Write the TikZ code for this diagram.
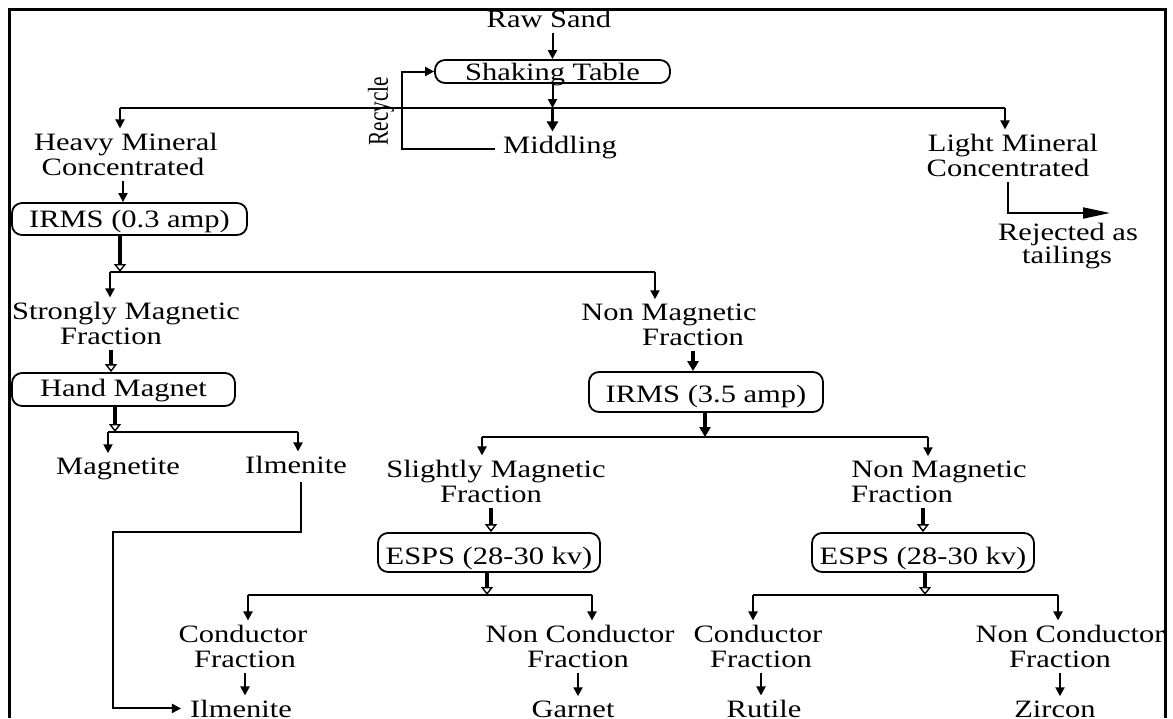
\documentclass[tikz,border=0pt]{standalone}
\usepackage{fontspec}
\setmainfont{Liberation Serif}[FakeStretch=1.22]
\usetikzlibrary{arrows.meta}
\begin{document}
\begin{tikzpicture}[x=1pt,y=-1pt,
  lbl/.style={inner sep=0pt, anchor=base, font=\fontsize{25}{30}\selectfont},
  proc/.style={draw, line width=1.8pt, rounded corners=10pt, inner sep=0pt, anchor=base,
    font=\fontsize{25}{30}\selectfont},
  ln/.style={line width=2pt},
  arr/.style={line width=2pt, -{Triangle[width=9pt,length=9pt]}},
  thk/.style={line width=3.2pt, -{Triangle[open,width=12pt,length=8pt,line width=1.4pt]}},
  thkf/.style={line width=3.2pt, -{Triangle[width=11pt,length=10pt]}},
  big/.style={line width=2pt, -{Triangle[width=11pt,length=27pt]}},
  fromtxt/.style={shorten <=6pt},
  totxt/.style={shorten >=4pt}
]
\useasboundingbox (0,0) rectangle (1173,718);

% process boxes
\node[proc, minimum width=235pt, text height=20pt, text depth=3pt] (shake) at (552.5,80) {Shaking Table};
\node[proc, minimum width=235pt, text height=24pt, text depth=8pt] (irmsa) at (129.5,227) {IRMS (0.3 amp)};
\node[proc, minimum width=223pt, text height=23pt, text depth=10pt] (hand) at (123.5,396) {Hand Magnet};
\node[proc, minimum width=234pt, text height=30pt, text depth=10pt] (irmsb) at (706,402) {IRMS (3.5 amp)};
\node[proc, minimum width=222pt, text height=31pt, text depth=8pt] (esa) at (489,564) {ESPS (28-30 kv)};
\node[proc, minimum width=222pt, text height=31pt, text depth=8pt] (esb) at (923,564) {ESPS (28-30 kv)};

% labels
\node[lbl] (raw) at (549,27) {Raw Sand};
\node[lbl] (mid) at (560,153) {Middling};
\node[lbl, anchor=center, rotate=90] (rec) at (381,111) {\scalebox{0.7}[1.15]{Recycle}};
\node[lbl] (hv1) at (126,150) {Heavy Mineral};
\node[lbl] (hv2) at (123,175) {Concentrated};
\node[lbl] (lt1) at (1013,151) {Light Mineral};
\node[lbl] (lt2) at (1008,176) {Concentrated};
\node[lbl] (rej1) at (1068,240) {Rejected as};
\node[lbl] (rej2) at (1067,263) {tailings};
\node[lbl] (sm1) at (126,319) {Strongly Magnetic};
\node[lbl] (sm2) at (111,344) {Fraction};
\node[lbl] (nm1) at (669,320) {Non Magnetic};
\node[lbl] (nm2) at (693,345) {Fraction};
\node[lbl] (mag) at (118,474) {Magnetite};
\node[lbl] (ilm1) at (296,473) {Ilmenite};
\node[lbl] (sl1) at (496,477) {Slightly Magnetic};
\node[lbl] (sl2) at (491,502) {Fraction};
\node[lbl] (nm3) at (939,477) {Non Magnetic};
\node[lbl] (nm4) at (902,502) {Fraction};
\node[lbl] (c1a) at (243,642) {Conductor};
\node[lbl] (c1b) at (245,667) {Fraction};
\node[lbl] (ilm2) at (241,717) {Ilmenite};
\node[lbl] (n1a) at (580,642) {Non Conductor};
\node[lbl] (n1b) at (578,667) {Fraction};
\node[lbl] (gar) at (573,717) {Garnet};
\node[lbl] (c2a) at (758,642) {Conductor};
\node[lbl] (c2b) at (761,667) {Fraction};
\node[lbl] (rut) at (764,717) {Rutile};
\node[lbl] (n2a) at (1070,642) {Non Conductor};
\node[lbl] (n2b) at (1060,667) {Fraction};
\node[lbl] (zir) at (1055,717) {Zircon};

% junction points
\coordinate (jt) at (552.5,108);
\coordinate (jl) at (120,108);
\coordinate (jr) at (1005,108);
\coordinate (rc) at (402,71.5);
\coordinate (rj) at (1110,213);
\coordinate (j2) at (120,272);
\coordinate (j2l) at (110,272);
\coordinate (j2r) at (655,272);
\coordinate (j3) at (115,432);
\coordinate (j3l) at (108,432);
\coordinate (j3r) at (298,432);
\coordinate (il1) at (301,532);
\coordinate (il2) at (113,532);
\coordinate (j4) at (705,437);
\coordinate (j4l) at (482,437);
\coordinate (j4r) at (928,437);
\coordinate (j5) at (487,595);
\coordinate (j5l) at (248,595);
\coordinate (j5r) at (592,595);
\coordinate (j6) at (925,595);
\coordinate (j6l) at (753,595);
\coordinate (j6r) at (1058,595);

% top stage
\draw[arr, fromtxt] (raw.south -| shake.north) -- (shake.north);
\draw[arr] (shake.south) -- (jt);
\draw[thkf, totxt] (jt) -- (jt |- mid.north);
\draw[ln] (jl) -- (jr);
\draw[arr, totxt] (jl) -- (jl |- hv1.north);
\draw[arr, totxt] (jr) -- (jr |- lt1.north);
\draw[arr] ([shift={(-8,-4)}]mid.base west) -| (rc) -- (shake.west);
\draw[big, fromtxt] (lt2.south) |- (rj);

% heavy mineral branch
\draw[arr, fromtxt] (hv2.south) -- (hv2.south |- irmsa.north);
\draw[thk] (irmsa.south -| j2) -- (j2);
\draw[ln] (j2l) -- (j2r);
\draw[arr, totxt] (j2l) -- (j2l |- sm1.north);
\draw[arr, totxt] (j2r) -- (j2r |- nm1.north);

% strongly magnetic branch
\draw[thk, fromtxt] (sm2.south) -- (sm2.south |- hand.north);
\draw[thk] (hand.south -| j3) -- (j3);
\draw[ln] (j3l) -- (j3r);
\draw[arr, totxt] (j3l) -- (j3l |- mag.north);
\draw[arr, totxt] (j3r) -- (j3r |- ilm1.north);
\draw[arr, shorten <=9pt, shorten >=9pt] (ilm1.south -| il1) -- (il1) -- (il2) |- (ilm2.west);

% non magnetic branch
\draw[thkf, fromtxt] (nm2.south) -- (nm2.south |- irmsb.north);
\draw[thkf] (irmsb.south -| j4) -- (j4);
\draw[ln] (j4l) -- (j4r);
\draw[arr, totxt] (j4l) -- (j4l |- sl1.north);
\draw[arr, totxt] (j4r) -- (j4r |- nm3.north);

% slightly magnetic branch
\draw[thk, fromtxt] (sl2.south) -- (sl2.south |- esa.north);
\draw[thk] (esa.south -| j5) -- (j5);
\draw[ln] (j5l) -- (j5r);
\draw[arr, totxt] (j5l) -- (j5l |- c1a.north);
\draw[arr, totxt] (j5r) -- (j5r |- n1a.north);
\draw[arr, fromtxt, totxt] (c1b.south) -- (c1b.south |- ilm2.north);
\draw[arr, fromtxt, totxt] (n1b.south) -- (n1b.south |- gar.north);

% second non magnetic branch
\draw[thk, fromtxt] (esb.north |- nm4.south) -- (esb.north);
\draw[thk] (esb.south -| j6) -- (j6);
\draw[ln] (j6l) -- (j6r);
\draw[arr, totxt] (j6l) -- (j6l |- c2a.north);
\draw[arr, totxt] (j6r) -- (j6r |- n2a.north);
\draw[arr, fromtxt, totxt] (c2b.south) -- (c2b.south |- rut.north);
\draw[arr, fromtxt, totxt] (n2b.south) -- (n2b.south |- zir.north);

% frame
\draw[line width=3pt] (9,718) -- (9,9) -- (1165,9) -- (1165,718);
\end{tikzpicture}
\end{document}
